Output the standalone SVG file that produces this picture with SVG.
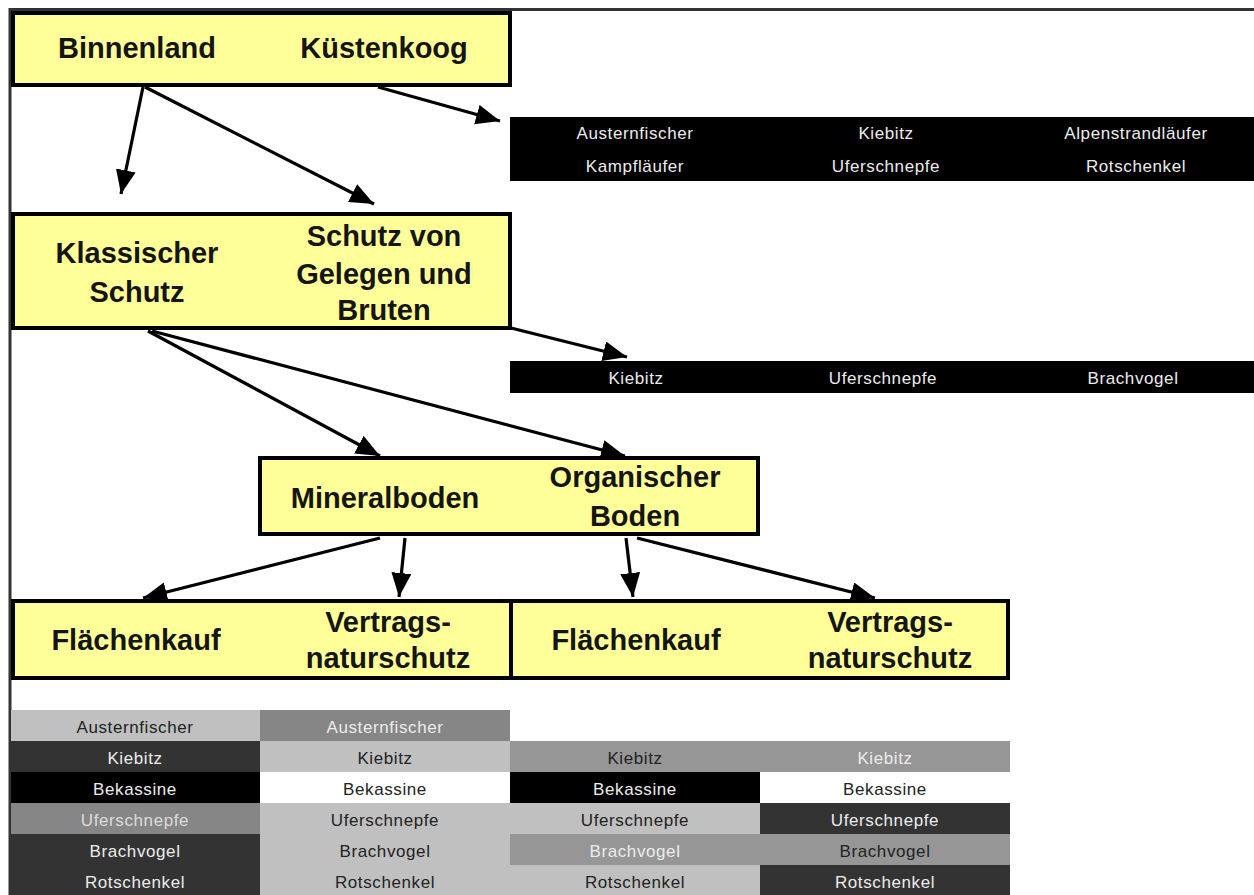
<svg xmlns="http://www.w3.org/2000/svg" width="1254" height="895" viewBox="0 0 1254 895">
  <style>
    .box { fill: #FFFF99; stroke: #000; stroke-width: 4; }
    .bt { font-family: "Liberation Sans", Arial, sans-serif; font-weight: bold; font-size: 29px; fill: #151515; text-anchor: middle; }
    .bar { fill: #000; }
    .st { font-family: "Liberation Sans", Arial, sans-serif; font-size: 17px; letter-spacing: 0.6px; text-anchor: middle; }
    .lt { fill: #ececec; }
    .dk { fill: #222; }
    .arrow { stroke: #000; stroke-width: 3.2; fill: none; marker-end: url(#head); }
    .frame { stroke: #333; stroke-width: 3; fill: none; }
  </style>
  <defs>
    <marker id="head" markerUnits="userSpaceOnUse" markerWidth="26" markerHeight="22" refX="24" refY="10" orient="auto">
      <path d="M0,0 L24,10 L0,20 z" fill="#000"/>
    </marker>
  </defs>

  <rect width="1254" height="895" fill="#fff"/>

  <!-- page frame -->
  <path class="frame" d="M10,895 L10,9.5 L1254,9.5"/>

  <!-- connectors -->
  <g id="connectors">
    <line class="arrow" x1="143" y1="87" x2="121" y2="194"/>
    <line class="arrow" x1="145" y1="87" x2="374" y2="204"/>
    <line class="arrow" x1="378" y1="87" x2="500" y2="121"/>
    <line class="arrow" x1="148" y1="331" x2="380" y2="456"/>
    <line class="arrow" x1="152" y1="331" x2="625" y2="456"/>
    <line class="arrow" x1="511" y1="328" x2="627" y2="357"/>
    <line class="arrow" x1="380" y1="538" x2="143" y2="598"/>
    <line class="arrow" x1="405" y1="538" x2="399" y2="597"/>
    <line class="arrow" x1="626" y1="538" x2="633" y2="597"/>
    <line class="arrow" x1="637" y1="538" x2="875" y2="598"/>
  </g>

  <!-- top level: Binnenland / Küstenkoog -->
  <g id="node-region">
    <rect class="box" x="13" y="13" width="497" height="72"/>
    <text class="bt" x="137" y="58">Binnenland</text>
    <text class="bt" x="384" y="58">Küstenkoog</text>
  </g>

  <!-- species bar for the coastal polder -->
  <g id="node-species-coast">
    <rect class="bar" x="510" y="117" width="744" height="64"/>
    <text class="st lt" x="635" y="139">Austernfischer</text>
    <text class="st lt" x="886" y="139">Kiebitz</text>
    <text class="st lt" x="1136" y="139">Alpenstrandläufer</text>
    <text class="st lt" x="635" y="172">Kampfläufer</text>
    <text class="st lt" x="886" y="172">Uferschnepfe</text>
    <text class="st lt" x="1136" y="172">Rotschenkel</text>
  </g>

  <!-- protection type -->
  <g id="node-protection">
    <rect class="box" x="13" y="214" width="497" height="114"/>
    <text class="bt" x="137" y="263">Klassischer</text>
    <text class="bt" x="137" y="302">Schutz</text>
    <text class="bt" x="384" y="246">Schutz von</text>
    <text class="bt" x="384" y="284">Gelegen und</text>
    <text class="bt" x="384" y="320">Bruten</text>
  </g>

  <!-- species bar for nest protection -->
  <g id="node-species-nests">
    <rect class="bar" x="510" y="361" width="744" height="32"/>
    <text class="st lt" x="636" y="384">Kiebitz</text>
    <text class="st lt" x="883" y="384">Uferschnepfe</text>
    <text class="st lt" x="1133" y="384">Brachvogel</text>
  </g>

  <!-- soil type -->
  <g id="node-soil">
    <rect class="box" x="260" y="458" width="498" height="76"/>
    <text class="bt" x="385" y="508">Mineralboden</text>
    <text class="bt" x="635" y="487">Organischer</text>
    <text class="bt" x="635" y="526">Boden</text>
  </g>

  <!-- measures on mineral soil -->
  <g id="node-measures-mineral">
    <rect class="box" x="13" y="601" width="498" height="77"/>
    <text class="bt" x="136" y="650">Flächenkauf</text>
    <text class="bt" x="388" y="632">Vertrags-</text>
    <text class="bt" x="388" y="668">naturschutz</text>
  </g>

  <!-- measures on organic soil -->
  <g id="node-measures-organic">
    <rect class="box" x="511" y="601" width="497" height="77"/>
    <text class="bt" x="636" y="650">Flächenkauf</text>
    <text class="bt" x="890" y="632">Vertrags-</text>
    <text class="bt" x="890" y="668">naturschutz</text>
  </g>

  <!-- species tables, one column per measure -->
  <g id="node-table-mineral-purchase">
    <rect x="11" y="710" width="249" height="31" fill="#c0c0c0"/>
    <rect x="11" y="741" width="249" height="31" fill="#333"/>
    <rect x="11" y="772" width="249" height="31" fill="#000"/>
    <rect x="11" y="803" width="249" height="31" fill="#868686"/>
    <rect x="11" y="834" width="249" height="61" fill="#333"/>
    <text class="st dk" x="135" y="733">Austernfischer</text>
    <text class="st lt" x="135" y="764">Kiebitz</text>
    <text class="st lt" x="135" y="795">Bekassine</text>
    <text class="st" x="135" y="826" fill="#dcdcdc">Uferschnepfe</text>
    <text class="st lt" x="135" y="857">Brachvogel</text>
    <text class="st lt" x="135" y="888">Rotschenkel</text>
  </g>

  <g id="node-table-mineral-contract">
    <rect x="260" y="710" width="250" height="31" fill="#868686"/>
    <rect x="260" y="741" width="250" height="31" fill="#c0c0c0"/>
    <rect x="260" y="772" width="250" height="31" fill="#fff"/>
    <rect x="260" y="803" width="250" height="92" fill="#c0c0c0"/>
    <text class="st lt" x="385" y="733">Austernfischer</text>
    <text class="st dk" x="385" y="764">Kiebitz</text>
    <text class="st dk" x="385" y="795">Bekassine</text>
    <text class="st dk" x="385" y="826">Uferschnepfe</text>
    <text class="st dk" x="385" y="857">Brachvogel</text>
    <text class="st dk" x="385" y="888">Rotschenkel</text>
  </g>

  <g id="node-table-organic-purchase">
    <rect x="510" y="741" width="250" height="31" fill="#969696"/>
    <rect x="510" y="772" width="250" height="31" fill="#000"/>
    <rect x="510" y="803" width="250" height="31" fill="#c0c0c0"/>
    <rect x="510" y="834" width="250" height="31" fill="#969696"/>
    <rect x="510" y="865" width="250" height="30" fill="#c0c0c0"/>
    <text class="st dk" x="635" y="764">Kiebitz</text>
    <text class="st lt" x="635" y="795">Bekassine</text>
    <text class="st dk" x="635" y="826">Uferschnepfe</text>
    <text class="st lt" x="635" y="857">Brachvogel</text>
    <text class="st dk" x="635" y="888">Rotschenkel</text>
  </g>

  <g id="node-table-organic-contract">
    <rect x="760" y="741" width="250" height="31" fill="#969696"/>
    <rect x="760" y="772" width="250" height="31" fill="#fff"/>
    <rect x="760" y="803" width="250" height="31" fill="#333"/>
    <rect x="760" y="834" width="250" height="31" fill="#969696"/>
    <rect x="760" y="865" width="250" height="30" fill="#333"/>
    <text class="st lt" x="885" y="764">Kiebitz</text>
    <text class="st dk" x="885" y="795">Bekassine</text>
    <text class="st lt" x="885" y="826">Uferschnepfe</text>
    <text class="st dk" x="885" y="857">Brachvogel</text>
    <text class="st lt" x="885" y="888">Rotschenkel</text>
  </g>
</svg>
